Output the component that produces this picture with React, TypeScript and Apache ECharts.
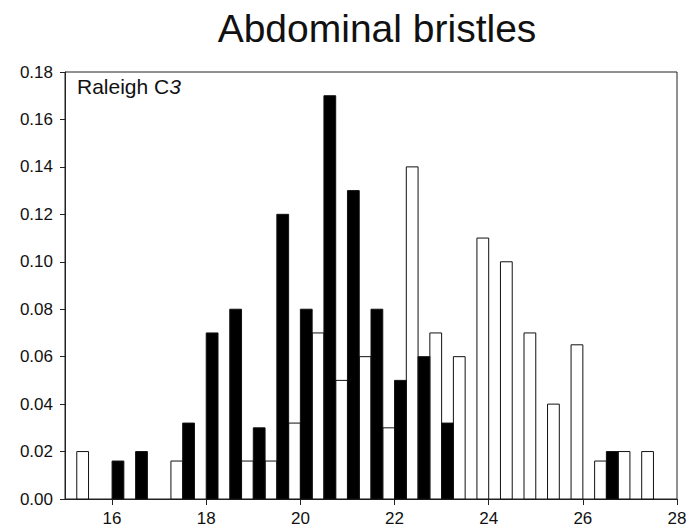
import React, { useEffect, useRef } from "react";
import * as echarts from "echarts";

// Histogram bins (lower edge of each 0.5-wide bin) and relative frequencies
const blackBins = [16.0, 16.5, 17.5, 18.0, 18.5, 19.0, 19.5, 20.0, 20.5, 21.0, 21.5, 22.0, 22.5, 23.0, 26.5];
const blackValues = [0.016, 0.02, 0.032, 0.07, 0.08, 0.03, 0.12, 0.08, 0.17, 0.13, 0.08, 0.05, 0.06, 0.032, 0.02];

const whiteBins = [15.0, 17.0, 18.5, 19.0, 19.5, 20.0, 20.5, 21.0, 21.5, 22.0, 22.5, 23.0, 23.5, 24.0, 24.5, 25.0, 25.5, 26.0, 26.5, 27.0];
const whiteValues = [0.02, 0.016, 0.016, 0.016, 0.032, 0.07, 0.05, 0.06, 0.03, 0.14, 0.07, 0.06, 0.11, 0.1, 0.07, 0.04, 0.065, 0.016, 0.02, 0.02];

const xTicks = [16, 18, 20, 22, 24, 26, 28];
const titleText = "Abdominal bristles";
const panelLabel = "Raleigh C";
const panelLabelSuffix = "3";

const FONT = "'Liberation Sans', Arial, Helvetica, sans-serif";

export default function App() {
  const ref = useRef<HTMLDivElement>(null);

  useEffect(() => {
    if (!ref.current) return;
    const chart = echarts.init(ref.current, null, { renderer: "svg" });

    // black bar occupies first half of bin, white bar second half
    const blackData = blackBins.map((b, i) => [b, b + 0.25, blackValues[i]]);
    const whiteData = whiteBins.map((b, i) => [b + 0.25, b + 0.5, whiteValues[i]]);

    const makeRender = (fill: string) => (params: any, api: any) => {
      const p0 = api.coord([api.value(0), api.value(2)]);
      const p1 = api.coord([api.value(1), 0]);
      return {
        type: "rect",
        shape: { x: p0[0], y: p0[1], width: p1[0] - p0[0], height: p1[1] - p0[1] },
        style: { fill, stroke: "#111", lineWidth: 1 },
      };
    };

    chart.setOption({
      animation: false,
      backgroundColor: "#fff",
      title: {
        text: titleText,
        left: 372,
        textAlign: "center",
        top: 4,
        textStyle: { fontFamily: FONT, fontSize: 39, fontWeight: "normal", color: "#111" },
      },
      graphic: [
        {
          type: "text",
          left: 77,
          top: 76,
          style: {
            text: panelLabel + "{i|" + panelLabelSuffix + "}",
            fontFamily: FONT,
            fontSize: 21,
            fill: "#111",
            rich: { i: { fontFamily: FONT, fontSize: 21, fontStyle: "italic", fill: "#111" } },
          },
        },
      ],
      grid: {
        left: 65,
        top: 72,
        width: 612,
        height: 427,
        show: true,
        borderColor: "#222",
        borderWidth: 1,
        containLabel: false,
      },
      xAxis: {
        type: "value",
        min: 15,
        max: 28,
        splitLine: { show: false },
        axisLine: { show: true, onZero: false, lineStyle: { color: "#222", width: 1 } },
        axisTick: { show: true, inside: false, length: 6, customValues: xTicks, lineStyle: { color: "#222" } },
        axisLabel: {
          customValues: xTicks,
          margin: 11,
          fontFamily: FONT,
          fontSize: 17,
          color: "#111",
          alignMinLabel: "center",
          alignMaxLabel: "center",
          hideOverlap: false,
        },
      },
      yAxis: {
        type: "value",
        min: 0,
        max: 0.18,
        interval: 0.02,
        splitLine: { show: false },
        axisLine: { show: true, lineStyle: { color: "#222", width: 1 } },
        axisTick: { show: true, inside: false, length: 5, lineStyle: { color: "#222" } },
        axisLabel: {
          margin: 12,
          fontFamily: FONT,
          fontSize: 17,
          color: "#111",
          formatter: (v: number) => v.toFixed(2),
        },
      },
      series: [
        {
          type: "custom",
          name: "white",
          data: whiteData,
          encode: { x: [0, 1], y: 2 },
          renderItem: makeRender("#ffffff"),
        },
        {
          type: "custom",
          name: "black",
          data: blackData,
          encode: { x: [0, 1], y: 2 },
          renderItem: makeRender("#000000"),
        },
      ],
    });

    return () => chart.dispose();
  }, []);

  return (
    <div
      ref={ref}
      style={{ position: "fixed", left: 0, top: 0, width: 700, height: 529, background: "#fff" }}
    />
  );
}
